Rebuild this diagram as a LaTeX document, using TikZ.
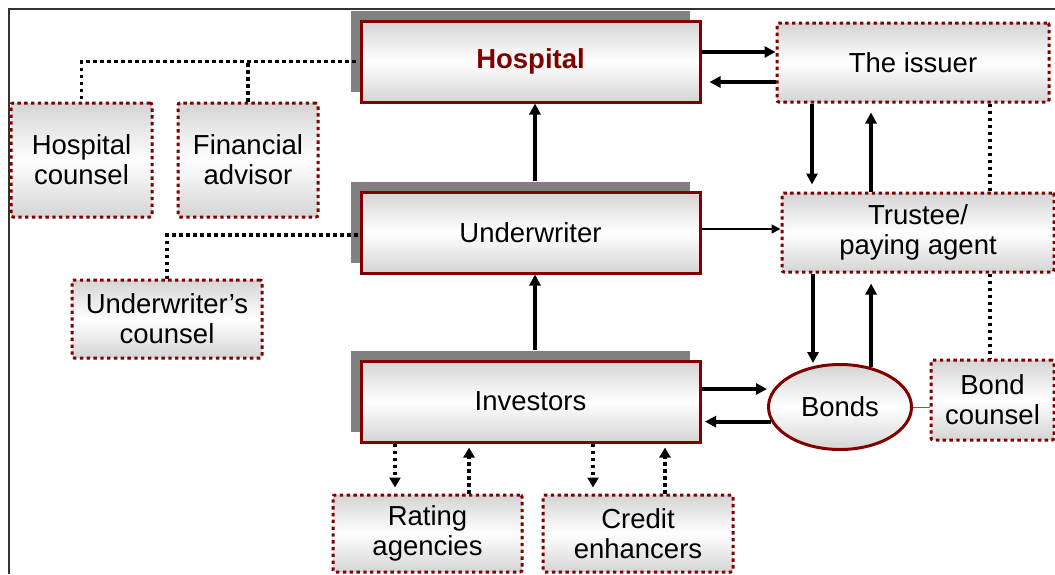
\documentclass[tikz,border=0pt]{standalone}
\usepackage{fontspec}
\setmainfont{Liberation Sans}
\usetikzlibrary{shapes.geometric,shadows,arrows.meta}
\definecolor{dred}{HTML}{800000}
\definecolor{shgray}{HTML}{808080}
\definecolor{boxgray}{HTML}{D4D4D4}
\begin{document}
\begin{tikzpicture}[x=1pt,y=-1pt,
  every node/.style={font=\fontsize{27.5}{30}\selectfont, align=center, inner sep=0pt},
  shadefill/.style={top color=boxgray, bottom color=boxgray, middle color=white},
  mainbox/.style={rectangle, draw=dred, line width=3pt, shadefill, minimum width=339pt, minimum height=81pt,
    general shadow={fill=shgray, shadow xshift=-10pt, shadow yshift=10pt}},
  sidebox/.style={rectangle, rounded corners=2pt, draw=dred, line width=3pt, dash pattern=on 3.4pt off 3.4pt, shadefill},
  arr/.style={line width=3.8pt, -{Triangle[length=11pt,width=11pt]}},
  thinarr/.style={line width=1.6pt, -{Triangle[length=9pt,width=9pt]}},
  dots/.style={line width=3.8pt, dash pattern=on 3.6pt off 3.4pt},
  dotarr/.style={dots, -{Triangle[length=10pt,width=11pt]}}
]
\useasboundingbox (0,0) rectangle (1055,574);
\draw[line width=1.5pt, black!80] (9,574) -- (9,9) -- (1055,9);

% main boxes
\node[mainbox, font=\fontsize{27.5}{30}\selectfont\bfseries, text=dred] (hosp) at (530.5,61.5) {Hospital};
\node[mainbox] (under) at (530.5,232.5) {Underwriter};
\node[mainbox] (inv) at (530.5,401.5) {Investors};

% side boxes
\node[sidebox, minimum width=272pt, minimum height=79pt] (issuer) at (913,62.5) {The issuer};
\node[sidebox, minimum width=272pt, minimum height=79pt] (trustee) at (918,232.5) {Trustee/\\paying agent};
\node[ellipse, draw=dred, line width=3pt, shadefill, minimum width=143pt, minimum height=85pt] (bonds) at (840,407) {Bonds};
\node[sidebox, minimum width=123pt, minimum height=80pt] (bondc) at (992.5,400) {Bond\\counsel};
\node[sidebox, minimum width=141pt, minimum height=114pt] (hcoun) at (81.5,160) {Hospital\\counsel};
\node[sidebox, minimum width=140pt, minimum height=114pt] (fadv) at (248,160) {Financial\\advisor};
\node[sidebox, minimum width=190pt, minimum height=78pt] (ucoun) at (167,319) {Underwriter’s\\counsel};
\node[sidebox, minimum width=189pt, minimum height=77pt] (rating) at (427.5,533.5) {Rating\\agencies};
\node[sidebox, minimum width=190pt, minimum height=77pt] (credit) at (638,533.5) {Credit\\enhancers};

% hospital <-> issuer
\path ([yshift=9.5pt]hosp.east) coordinate (he1);
\draw[arr] (he1) -- (he1 -| issuer.west);
\path ([yshift=-19.5pt]issuer.west) coordinate (iw2);
\draw[arr, shorten >=8pt] (iw2) -- (iw2 -| hosp.east);

% vertical main arrows
\draw[arr] ([xshift=4.5pt,yshift=10pt]under.north) -- ([xshift=4.5pt]hosp.south);
\draw[arr] ([xshift=4.5pt,yshift=10pt]inv.north) -- ([xshift=4.5pt]under.south);

% underwriter -> trustee
\path ([yshift=3.5pt]under.east) coordinate (ue);
\draw[thinarr] (ue) -- (ue -| trustee.west);

% issuer <-> trustee
\path ([xshift=-101pt]issuer.south) coordinate (is1);
\draw[arr, shorten >=7pt] (is1) -- (is1 |- trustee.north);
\path ([xshift=-47pt]trustee.north) coordinate (tn1);
\draw[arr, shorten >=9pt] (tn1) -- (tn1 |- issuer.south);

% trustee <-> bonds
\path ([xshift=-105pt]trustee.south) coordinate (ts1);
\draw[arr] (ts1) -- (ts1 |- bonds.north);
\draw[arr, shorten >=10pt] (bonds.52) -- (bonds.52 |- trustee.south);

% investors <-> bonds
\path ([yshift=12.5pt]inv.east) coordinate (ie1);
\draw[arr] (ie1) -- (ie1 -| bonds.west);
\draw[arr, shorten >=3.5pt] (bonds.192) -- (bonds.192 -| inv.east);

% bonds -- bond counsel
\draw[line width=1pt, black!60] (bonds.east) -- (bonds.east -| bondc.west);

% dotted links
\draw[dots] ([xshift=-4pt]hosp.west) -- (hosp.west -| hcoun.north) -- (hcoun.north);
\draw[dots] (fadv.north) -- (fadv.north |- hosp.west);
\path ([yshift=-2.5pt]under.west) coordinate (uw);
\draw[dots] ([xshift=-2pt]uw) -- (uw -| ucoun.north) -- (ucoun.north);
\path ([xshift=-2.5pt]bondc.north) coordinate (bn);
\draw[dots] (issuer.south -| bn) -- (trustee.north -| bn);
\draw[dots] (trustee.south -| bn) -- (bn);

% dotted arrows investors <-> rating / credit
\path ([xshift=-32.5pt]rating.north) coordinate (r1);
\draw[dotarr, shorten >=6pt] (r1 |- inv.south) -- (r1);
\path ([xshift=41.5pt]rating.north) coordinate (r2);
\draw[dotarr, shorten >=4pt] (r2) -- (r2 |- inv.south);
\path ([xshift=-45pt]credit.north) coordinate (c1);
\draw[dotarr, shorten >=6pt] (c1 |- inv.south) -- (c1);
\path ([xshift=27pt]credit.north) coordinate (c2);
\draw[dotarr, shorten >=4pt] (c2) -- (c2 |- inv.south);
\end{tikzpicture}
\end{document}
